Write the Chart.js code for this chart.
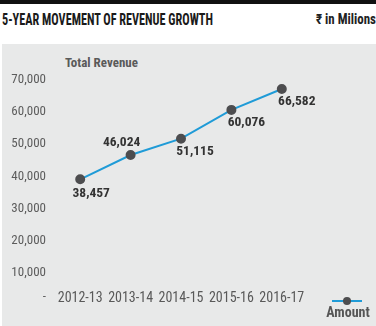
<!DOCTYPE html>
<html>
<head>
<meta charset="utf-8">
<script src="https://cdn.jsdelivr.net/npm/chart.js@4"></script>
<style>
  html, body { margin: 0; padding: 0; background: #ffffff; }
  #wrap { position: relative; width: 376px; height: 326px; overflow: hidden; background: #ffffff; }
  #topbar { position: absolute; left: 0; top: 0; width: 376px; height: 4px; background: #111; }
  #title { position: absolute; left: 2px; top: 10px; font-family: "Roboto Condensed", "DejaVu Sans Condensed", sans-serif; font-size: 17px; line-height: 18px; font-weight: bold; color: #1a1a1a; white-space: nowrap; transform-origin: 0 0; }
  #unit { position: absolute; right: 0px; top: 11px; font-family: "Roboto Condensed", "DejaVu Sans Condensed", sans-serif; font-size: 14px; line-height: 16px; font-weight: bold; color: #222; white-space: nowrap; transform-origin: 100% 0; }
  #panel { position: absolute; left: 2px; top: 44px; width: 374px; height: 282px; background: #e8e9e9; }
  #subtitle { position: absolute; left: 65px; top: 55px; font-family: "Roboto Condensed", "DejaVu Sans Condensed", sans-serif; font-size: 13px; line-height: 16px; font-weight: bold; color: #5a5a5a; white-space: nowrap; }
  #cv { position: absolute; left: 0; top: 45px; }
</style>
</head>
<body>
<div id="wrap">
  <div id="topbar"></div>
  <div id="title">5-YEAR MOVEMENT OF REVENUE GROWTH</div>
  <div id="unit">₹ in Milions</div>
  <div id="panel"></div>
  <div id="subtitle">Total Revenue</div>
  <canvas id="cv" width="376" height="281"></canvas>
</div>
<script>
const categories = ['2012-13', '2013-14', '2014-15', '2015-16', '2016-17'];
const amountValues = [38457, 46024, 51115, 60076, 66582];
const yTickValues = [0, 10000, 20000, 30000, 40000, 50000, 60000, 70000];
const seriesName = 'Amount';

// fit the condensed header texts to the reference widths
function fitWidth(id, target) {
  const el = document.getElementById(id);
  const w = el.getBoundingClientRect().width;
  if (w > 0) el.style.transform = 'scaleX(' + (target / w) + ')';
}
fitWidth('title', 211);
fitWidth('unit', 60);

const FONT = '"Roboto Condensed", "DejaVu Sans Condensed", sans-serif';
// label placement relative to point: [dx, dy]
const labelOffsets = [[11, 14], [-9, -12], [14, 13], [15, 13], [15, 13]];

const fmt = v => v.toLocaleString('en-US');

const dataLabelPlugin = {
  id: 'dataLabels',
  afterDatasetsDraw(chart) {
    const ctx = chart.ctx;
    const meta = chart.getDatasetMeta(0);
    ctx.save();
    ctx.font = 'bold 13.5px ' + FONT;
    ctx.fillStyle = '#333333';
    ctx.textAlign = 'center';
    ctx.textBaseline = 'middle';
    meta.data.forEach((pt, i) => {
      const off = labelOffsets[i];
      ctx.fillText(fmt(amountValues[i]), pt.x + off[0], pt.y + off[1]);
    });
    ctx.restore();
  }
};

const legendPlugin = {
  id: 'customLegend',
  afterDraw(chart) {
    const ctx = chart.ctx;
    const ds = chart.data.datasets[0];
    const cx = 347, cy = 256;
    ctx.save();
    ctx.strokeStyle = ds.borderColor;
    ctx.lineWidth = 2;
    ctx.beginPath();
    ctx.moveTo(cx - 15, cy);
    ctx.lineTo(cx + 15, cy);
    ctx.stroke();
    ctx.fillStyle = ds.pointBackgroundColor;
    ctx.beginPath();
    ctx.arc(cx, cy, 4, 0, Math.PI * 2);
    ctx.fill();
    ctx.font = 'bold 14px ' + FONT;
    ctx.fillStyle = '#555555';
    ctx.textAlign = 'center';
    ctx.textBaseline = 'middle';
    ctx.fillText(ds.label, cx + 1, cy + 12);
    ctx.restore();
  }
};

new Chart(document.getElementById('cv'), {
  type: 'line',
  data: {
    labels: categories,
    datasets: [{
      label: seriesName,
      data: amountValues,
      borderColor: '#1f9bd7',
      borderWidth: 2,
      pointBackgroundColor: '#4d4d4f',
      pointBorderColor: '#4d4d4f',
      pointRadius: 4,
      pointHoverRadius: 4,
      tension: 0,
      fill: false
    }]
  },
  options: {
    responsive: false,
    animation: false,
    events: [],
    layout: { padding: { top: 33, right: 69, bottom: 0, left: 0 } },
    plugins: {
      legend: { display: false },
      title: { display: false },
      tooltip: { enabled: false }
    },
    scales: {
      x: {
        type: 'category',
        offset: true,
        grid: { display: false, drawTicks: false },
        border: { display: false },
        ticks: {
          color: '#595959',
          font: { family: FONT, size: 14 },
          padding: 0,
          maxRotation: 0,
          autoSkip: false
        },
        afterFit(scale) { scale.height = 36; }
      },
      y: {
        min: 4000,
        max: 70000,
        grid: { display: false, drawTicks: false },
        border: { display: false },
        afterBuildTicks(scale) { scale.ticks = yTickValues.map(v => ({ value: v })); },
        afterFit(scale) { scale.width = 55; },
        ticks: {
          color: '#5c5c5c',
          font: { family: FONT, size: 13 },
          padding: 9,
          labelOffset: 2,
          autoSkip: false,
          callback: v => v === 0 ? ['-', ''] : fmt(v)
        }
      }
    }
  },
  plugins: [dataLabelPlugin, legendPlugin]
});
</script>
</body>
</html>
